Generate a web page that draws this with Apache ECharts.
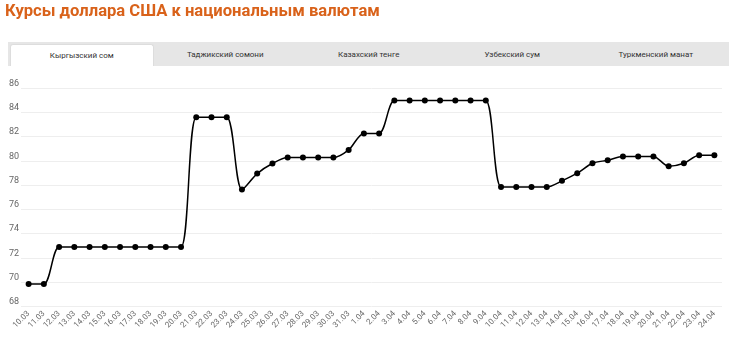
<!DOCTYPE html>
<html><head><meta charset="utf-8">
<script src="https://cdn.jsdelivr.net/npm/echarts@6/dist/echarts.min.js"></script>
<style>
html,body{margin:0;padding:0;background:#fff;width:730px;height:344px;overflow:hidden;font-family:Roboto,"Noto Sans",sans-serif;}
#title{position:absolute;left:5px;top:1px;font-size:16.6px;font-weight:bold;color:#d9621a;white-space:nowrap;}
#tabs{position:absolute;left:8px;top:42px;width:721px;height:24px;background:#e6e6e6;}
.tab{position:absolute;top:2px;height:22px;width:143.5px;text-align:center;font-size:8px;line-height:21px;color:#333;}
.tab.active{background:#fff;border:1px solid #ddd;border-bottom:none;border-radius:3px 3px 0 0;box-sizing:border-box;}
#chart{position:absolute;left:0;top:0;width:730px;height:344px;}
</style></head>
<body>
<div id="chart"></div>
<div id="title">Курсы доллара США к национальным валютам</div>
<div id="tabs"></div>
<script>
const tabNames = ["Кыргызский сом","Таджикский сомони","Казахский тенге","Узбекский сум","Туркменский манат"];
const categories = ["10.03","11.03","12.03","13.03","14.03","15.03","16.03","17.03","18.03","19.03","20.03","21.03","22.03","23.03","24.03","25.03","26.03","27.03","28.03","29.03","30.03","31.03","1.04","2.04","3.04","4.04","5.04","6.04","7.04","8.04","9.04","10.04","11.04","12.04","13.04","14.04","15.04","16.04","17.04","18.04","19.04","20.04","21.04","22.04","23.04","24.04"];
const values = [69.85,69.85,72.9,72.9,72.9,72.9,72.9,72.9,72.9,72.9,72.9,83.6,83.6,83.6,77.63,78.95,79.78,80.27,80.27,80.27,80.27,80.9,82.26,82.26,84.96,84.96,84.96,84.96,84.96,84.96,84.96,77.85,77.85,77.85,77.85,78.35,78.98,79.8,80.05,80.36,80.36,80.36,79.55,79.8,80.47,80.47];
const yMin = 68, yMax = 86, yStep = 2;

const tabsEl = document.getElementById('tabs');
tabNames.forEach((n,i)=>{
  const d=document.createElement('div');
  d.className='tab'+(i===0?' active':'');
  d.style.left=(2+i*143.5)+'px';
  d.textContent=n;
  tabsEl.appendChild(d);
});

const chart = echarts.init(document.getElementById('chart'));
chart.setOption({
  animation:false,
  grid:{left:21,right:8,top:88,bottom:37.5,containLabel:false},
  xAxis:{type:'category',data:categories,boundaryGap:true,
    axisLine:{show:false},axisTick:{show:false},
    axisLabel:{rotate:45,fontSize:8,color:'#666',margin:6,interval:0,fontFamily:'Roboto'}},
  yAxis:{type:'value',min:yMin,max:yMax,interval:yStep,
    axisLine:{show:false},axisTick:{show:false},
    axisLabel:{fontSize:9,color:'#666',align:'left',margin:12,fontFamily:'Roboto',verticalAlign:'bottom'},
    splitLine:{lineStyle:{color:'#eeeeee',width:1}}},
  series:[{type:'line',data:values,smooth:0.3,symbol:'circle',symbolSize:6,
    lineStyle:{color:'#000',width:1.5},itemStyle:{color:'#000'}}]
});
</script>
</body></html>
